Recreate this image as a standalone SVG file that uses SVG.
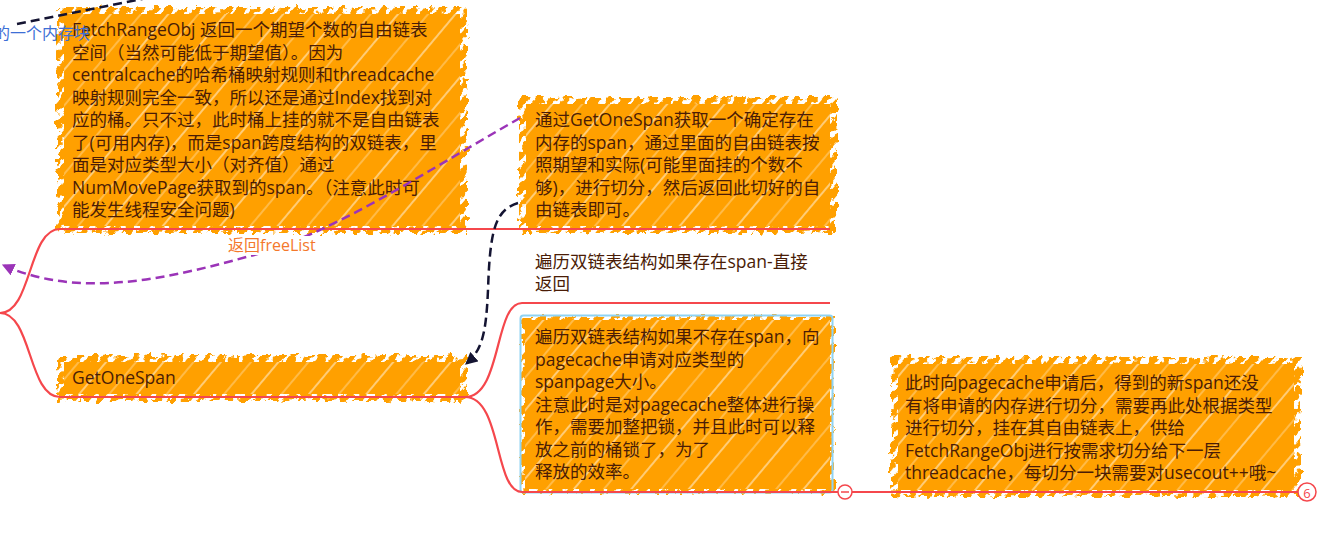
<svg xmlns="http://www.w3.org/2000/svg" width="1333" height="533" viewBox="0 0 1333 533">
<style>
.t{font-family:"Open Sans","Noto Sans CJK SC",sans-serif;font-size:17.5px;fill:#4a1c06}
.box{fill:url(#hatch)}
.edge{fill:url(#stripes);filter:url(#rough)}
.red{fill:none;stroke:#f5474c;stroke-width:2.2}
.navy{fill:none;stroke:#141432;stroke-width:2.5;stroke-dasharray:9 5}
.purple{fill:none;stroke:#9b34b8;stroke-width:2.5;stroke-dasharray:9 5}
</style>
<defs>
<pattern id="hatch" patternUnits="userSpaceOnUse" width="44" height="44" patternTransform="rotate(40)">
<rect width="44" height="44" fill="#ffa000"/>
<line x1="6" y1="0" x2="6" y2="44" stroke="#fff" stroke-width="1.1" opacity="0.85"/>
<line x1="29" y1="0" x2="29" y2="44" stroke="#fff" stroke-width="0.8" opacity="0.7"/>
</pattern>
<pattern id="stripes" patternUnits="userSpaceOnUse" width="11" height="11" patternTransform="rotate(40)">
<rect width="7" height="11" fill="#ffa000"/>
</pattern>
<filter id="rough" x="-5%" y="-20%" width="110%" height="140%">
<feTurbulence type="fractalNoise" baseFrequency="0.15" numOctaves="2" seed="4" result="n"/>
<feDisplacementMap in="SourceGraphic" in2="n" scale="10" xChannelSelector="R" yChannelSelector="G"/>
</filter>
<marker id="arrNavy" viewBox="0 0 10 10" refX="9" refY="5" markerWidth="5" markerHeight="5" orient="auto">
<path d="M0,0 L10,5 L0,10 Z" fill="#141432"/>
</marker>
<marker id="arrPurple" viewBox="0 0 10 10" refX="9" refY="5" markerWidth="5" markerHeight="5" orient="auto">
<path d="M0,0 L10,5 L0,10 Z" fill="#9b34b8"/>
</marker>
</defs>
<rect width="1333" height="533" fill="#fff"/>

<g id="node-fetch">
<rect class="edge" x="57" y="7" width="410" height="226"/>
<rect class="box" x="64" y="14" width="396" height="212"/>
<text class="t"><tspan x="72" y="36">FetchRangeObj 返回一个期望个数的自由链表</tspan><tspan x="72" y="58.5">空间（当然可能低于期望值）。因为</tspan><tspan x="72" y="81">centralcache的哈希桶映射规则和threadcache</tspan><tspan x="72" y="103.5">映射规则完全一致，所以还是通过Index找到对</tspan><tspan x="72" y="126">应的桶。只不过，此时桶上挂的就不是自由链表</tspan><tspan x="72" y="148.5">了(可用内存)，而是span跨度结构的双链表，里</tspan><tspan x="72" y="171">面是对应类型大小（对齐值）通过</tspan><tspan x="72" y="193.5">NumMovePage获取到的span。（注意此时可</tspan><tspan x="72" y="216">能发生线程安全问题)</tspan></text>
</g>

<g id="node-getonespan-desc">
<rect class="edge" x="519" y="97" width="318" height="136"/>
<rect class="box" x="526" y="104" width="304" height="122"/>
<text class="t"><tspan x="535" y="126">通过GetOneSpan获取一个确定存在</tspan><tspan x="535" y="148.5">内存的span，通过里面的自由链表按</tspan><tspan x="535" y="171">照期望和实际(可能里面挂的个数不</tspan><tspan x="535" y="193.5">够)，进行切分，然后返回此切好的自</tspan><tspan x="535" y="216">由链表即可。</tspan></text>
</g>

<g id="node-getonespan">
<rect class="edge" x="57" y="355" width="410" height="46"/>
<rect class="box" x="64" y="362" width="396" height="32"/>
<text class="t" x="72" y="384">GetOneSpan</text>
</g>

<g id="node-exists">
<text class="t"><tspan x="535" y="268">遍历双链表结构如果存在span-直接</tspan><tspan x="535" y="290">返回</tspan></text>
</g>

<g id="node-notexists">
<rect class="edge" x="521" y="316" width="313" height="177"/>
<rect class="box" x="525" y="320" width="305" height="169"/>
<rect x="520.5" y="315.5" width="312" height="177" rx="3" fill="none" stroke="#8fd3f3" stroke-width="2"/>
<text class="t"><tspan x="535" y="343">遍历双链表结构如果不存在span，向</tspan><tspan x="535" y="365.5">pagecache申请对应类型的</tspan><tspan x="535" y="388">spanpage大小。</tspan><tspan x="535" y="410.5">注意此时是对pagecache整体进行操</tspan><tspan x="535" y="433">作，需要加整把锁，并且此时可以释</tspan><tspan x="535" y="455.5">放之前的桶锁了，为了</tspan><tspan x="535" y="478">释放的效率。</tspan></text>
</g>

<g id="node-split">
<rect class="edge" x="891" y="357" width="410" height="140"/>
<rect class="box" x="898" y="364" width="396" height="126"/>
<text class="t"><tspan x="905" y="389">此时向pagecache申请后，得到的新span还没</tspan><tspan x="905" y="411.5">有将申请的内存进行切分，需要再此处根据类型</tspan><tspan x="905" y="434">进行切分，挂在其自由链表上，供给</tspan><tspan x="905" y="456.5">FetchRangeObj进行按需求切分给下一层</tspan><tspan x="905" y="479">threadcache，每切分一块需要对usecout++哦~</tspan></text>
</g>

<g id="connectors">
<path class="red" d="M0,313 C32,313 28,229 60,229 H830"/>
<path class="red" d="M0,313 C32,313 28,397 60,397 H465"/>
<path class="red" d="M465,397 C502,397 494,303 522,303 H830"/>
<path class="red" d="M465,397 C502,397 494,492 522,492 H838"/>
<path class="red" d="M852,492 H1298"/>
<circle cx="845" cy="492" r="7" fill="#fff" stroke="#f5474c" stroke-width="1.5"/>
<line x1="841" y1="492" x2="849" y2="492" stroke="#f5474c" stroke-width="1.5"/>
<circle cx="1307" cy="492" r="9" fill="#fff" stroke="#f5474c" stroke-width="1.5"/>
<text x="1307" y="497.5" text-anchor="middle" font-family="Open Sans, sans-serif" font-size="13" fill="#f5474c">6</text>

<path class="navy" d="M17,24 L152,-3"/>
<text x="-6" y="39" font-family="Noto Sans CJK SC, sans-serif" font-size="16" fill="#3d6fd6">的一个内存块</text>

<path class="navy" d="M518,203 C495,210 490,230 488,290 C486,335 482,350 466,364" marker-end="url(#arrNavy)"/>

<path class="purple" d="M520,118 C420,175 330,235 250,256 C170,278 80,300 3,265" marker-end="url(#arrPurple)"/>
<rect x="226" y="236" width="95" height="19" fill="#fff"/>
<text x="228" y="251" font-family="Open Sans, Noto Sans CJK SC, sans-serif" font-size="16" fill="#f4782a">返回freeList</text>
</g>
</svg>
